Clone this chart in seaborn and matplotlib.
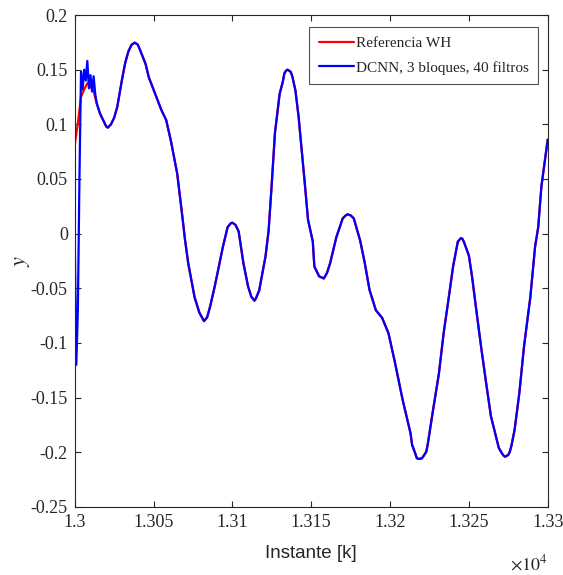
import numpy as np
import pandas as pd
import seaborn as sns
import matplotlib.pyplot as plt
from matplotlib.ticker import FuncFormatter

# Reference (Wiener-Hammerstein) output
k_ref = [13000, 13002, 13004, 13006, 13008, 13010, 13012, 13014, 13016, 13018,
         13020, 13021, 13023, 13025, 13027, 13030, 13032, 13034, 13036, 13038,
         13040, 13042, 13045, 13047, 13051, 13055, 13058, 13061, 13065, 13068,
         13070, 13072, 13076, 13079, 13081, 13082, 13084, 13086, 13089, 13091,
         13094, 13096, 13097, 13099, 13100, 13102, 13104, 13107, 13110, 13112,
         13114, 13115, 13117, 13121, 13123, 13125, 13127, 13130, 13132, 13133,
         13134, 13135, 13137, 13138, 13140, 13142, 13146, 13148, 13151, 13152,
         13155, 13158, 13160, 13162, 13166, 13170, 13172, 13173, 13175, 13177,
         13181, 13184, 13187, 13191, 13195, 13199, 13203, 13208, 13213, 13214,
         13216, 13217, 13218, 13220, 13221, 13223, 13224, 13227, 13231, 13234,
         13237, 13240, 13242, 13243, 13245, 13246, 13247, 13250, 13252, 13255,
         13258, 13261, 13264, 13268, 13269, 13271, 13272, 13273, 13275, 13276,
         13277, 13279, 13282, 13285, 13289, 13292, 13294, 13296, 13300]
y_ref = [0.081, 0.101, 0.125, 0.132, 0.1375, 0.135, 0.130, 0.119, 0.110, 0.104,
         0.098, 0.097, 0.100, 0.106, 0.116, 0.141, 0.156, 0.1665, 0.1726, 0.1747,
         0.173, 0.166, 0.155, 0.143, 0.128, 0.113, 0.104, 0.085, 0.055, 0.019,
         -0.006, -0.027, -0.058, -0.072, -0.0774, -0.080, -0.0765, -0.066, -0.047, -0.033,
         -0.012, 0.000, 0.006, 0.0095, 0.010, 0.008, 0.002, -0.027, -0.0485, -0.0576,
         -0.0613, -0.059, -0.052, -0.021, 0.003, 0.046, 0.092, 0.128, 0.139, 0.1467,
         0.149, 0.150, 0.148, 0.144, 0.131, 0.107, 0.045, 0.0125, -0.007, -0.030,
         -0.039, -0.041, -0.036, -0.027, -0.003, 0.014, 0.0168, 0.0177, 0.0168, 0.014,
         -0.006, -0.027, -0.0515, -0.070, -0.077, -0.091, -0.117, -0.152, -0.1826, -0.1932,
         -0.201, -0.2054, -0.206, -0.2057, -0.204, -0.1994, -0.192, -0.164, -0.128, -0.091,
         -0.061, -0.030, -0.015, -0.0073, -0.004, -0.0049, -0.008, -0.020, -0.039, -0.073,
         -0.106, -0.137, -0.167, -0.190, -0.196, -0.201, -0.203, -0.204, -0.2024, -0.1994,
         -0.194, -0.1795, -0.146, -0.103, -0.058, -0.012, 0.006, 0.043, 0.086]

# DCNN start-up transient, afterwards it follows the reference
k_start = [13000, 13001, 13002, 13003, 13004, 13005, 13006, 13007,
           13008, 13009, 13010, 13011, 13012, 13013]
y_start = [0.0, -0.12, -0.07, 0.05, 0.148, 0.132, 0.150, 0.140,
           0.158, 0.133, 0.145, 0.130, 0.144, 0.128]

ref = pd.DataFrame({'k': k_ref, 'y': y_ref})
dcnn = pd.concat([pd.DataFrame({'k': k_start, 'y': y_start}),
                  ref[ref['k'] > 13013]], ignore_index=True)

sns.set_style('ticks')
plt.rcParams['font.family'] = ['Liberation Serif', 'DejaVu Serif']
plt.rcParams['mathtext.fontset'] = 'stix'

fig = plt.figure(figsize=(5.63, 5.75), dpi=100)
ax = fig.add_axes([0.1327, 0.1183, 0.8401, 0.8556])

sns.lineplot(data=ref, x='k', y='y', color='#ff0000', lw=1.6, sort=False,
             estimator=None, label='Referencia WH', ax=ax)
sns.lineplot(data=dcnn, x='k', y='y', color='#0000ff', lw=1.6, sort=False,
             estimator=None, label='DCNN, 3 bloques, 40 filtros', ax=ax)

ax.set_xlim(13000, 13300)
ax.set_ylim(-0.25, 0.2)
ax.set_xticks(np.arange(13000, 13301, 50))
ax.set_yticks(np.arange(-0.25, 0.201, 0.05))
ax.xaxis.set_major_formatter(FuncFormatter(lambda v, p: '%g' % round(v / 1e4, 4)))
ax.yaxis.set_major_formatter(FuncFormatter(lambda v, p: '%g' % (round(v, 2) + 0.0)))
ax.tick_params(direction='in', length=4.5, width=0.8, top=True, right=True,
               labelsize=13, colors='#262626', pad=5)
for s in ax.spines.values():
    s.set_color('#262626')
    s.set_linewidth(0.8)

ax.set_xlabel('Instante [k]', family=['Liberation Sans'], fontsize=13.5, color='#262626', labelpad=10)
ax.set_ylabel('$y$', fontsize=16, color='#262626')
ax.yaxis.set_label_coords(-0.09, 0.5)
ax.text(1.0, -0.095, r'$\times 10^4$', transform=ax.transAxes, ha='right', va='top',
        fontsize=13, color='#262626')

leg = ax.legend(loc='upper right', bbox_to_anchor=(0.9795, 0.9756), fontsize=11,
                frameon=True, fancybox=False, handlelength=2.3, borderaxespad=0,
                borderpad=0.6, labelspacing=0.72, handletextpad=0.15)
leg.get_frame().set_edgecolor('#262626')
leg.get_frame().set_linewidth(0.8)

fig.savefig('out.png', dpi=100)
